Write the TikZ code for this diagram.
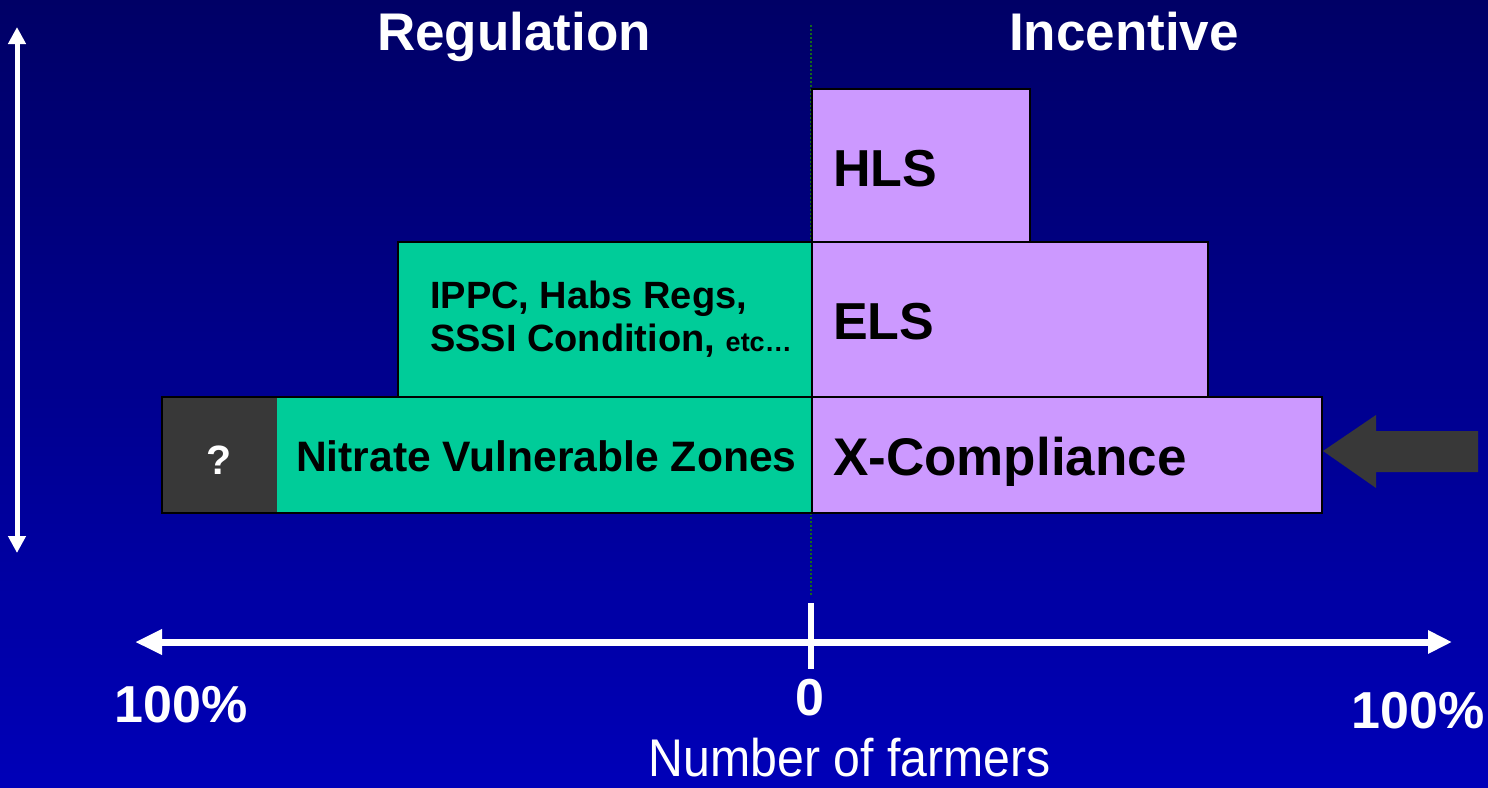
\documentclass[tikz,border=0pt]{standalone}
\usepackage{fontspec}
\setmainfont{Liberation Sans}
\usetikzlibrary{arrows.meta}

\definecolor{bgtop}{RGB}{0,0,102}
\definecolor{bgbottom}{RGB}{0,0,184}
\definecolor{regcol}{RGB}{0,204,153}
\definecolor{inccol}{RGB}{204,153,255}
\definecolor{darkbox}{RGB}{56,56,56}
\definecolor{divider}{RGB}{20,105,25}

\tikzset{
  bar/.style={draw=black, line width=2pt, rectangle, anchor=north west, inner sep=0pt},
  barlabel/.style={anchor=base west, inner sep=0pt, text=black, font=\bfseries\fontsize{52}{60}\selectfont},
  whitetext/.style={anchor=base, inner sep=0pt, text=white, font=\bfseries\fontsize{52}{60}\selectfont},
}

\begin{document}
\begin{tikzpicture}[x=1pt,y=-1pt]
\shade[top color=bgtop, bottom color=bgbottom] (0,0) rectangle (1488,787);
\useasboundingbox (0,0) rectangle (1488,787);

\node[whitetext, font=\bfseries\fontsize{53}{60}\selectfont] at (514,50) (regulation) {Regulation};
\node[whitetext, font=\bfseries\fontsize{53}{60}\selectfont] at (1124,50) (incentive) {Incentive};

\coordinate (divtop) at (811,25);
\coordinate (divbottom) at (811,595);
\draw[divider, dotted, line width=2pt] (divtop) -- (divbottom);

\node[bar, fill=regcol, minimum width=414pt, minimum height=155pt] at (397,241) (ippc) {};
\node[bar, fill=regcol, minimum width=650pt, minimum height=116pt] at (161,396) (nvz) {};
\node[bar, draw=none, fill=darkbox, minimum width=114pt, minimum height=114pt] at (162,397) (unknown) {};
\node[bar, fill=inccol, minimum width=218pt, minimum height=153pt] at (811,88) (hls) {};
\node[bar, fill=inccol, minimum width=396pt, minimum height=155pt] at (811,241) (els) {};
\node[bar, fill=inccol, minimum width=510pt, minimum height=116pt] at (811,396) (xcomp) {};

\node[barlabel] at (833,186) (hlstext) {HLS};
\node[barlabel] at (833,339) (elstext) {ELS};
\node[barlabel, font=\bfseries\fontsize{53}{60}\selectfont] at (833,475) (xcomptext) {X-Compliance};
\node[barlabel, anchor=north west, align=left, font=\bfseries\fontsize{38}{43}\selectfont]
  at (430,281) (ippctext) {IPPC, Habs Regs,\\SSSI Condition, {\fontsize{27}{43}\selectfont etc…}};
\node[barlabel, font=\bfseries\fontsize{42.6}{50}\selectfont] at (296,471) (nvztext) {Nitrate Vulnerable Zones};
\node[whitetext, font=\bfseries\fontsize{41}{50}\selectfont] at (219,474) (unknowntext) {?};

% pointer at X-Compliance
\fill[darkbox] (1323,451) -- (1376,415) -- (1376,431) -- (1478,431)
  -- (1478,472) -- (1376,472) -- (1376,488) -- cycle;

\coordinate (vtop) at (17,27);
\coordinate (vbottom) at (17,553);
\draw[white, line width=5pt, arrows={Triangle[length=17pt,width=17pt]-Triangle[length=17pt,width=17pt]}]
  (vtop) -- (vbottom);

\coordinate (axisleft) at (135,642);
\coordinate (axisright) at (1452,642);
\draw[white, line width=7pt, arrows={Triangle[length=27pt,width=24pt]-Triangle[length=24pt,width=22pt]}]
  (axisleft) -- (axisright);
\coordinate (ticktop) at (811,603);
\coordinate (tickbottom) at (811,669);
\draw[white, line width=6pt] (ticktop) -- (tickbottom);

\node[whitetext] at (181,722) (leftpct) {100\%};
\node[whitetext] at (810,715) (zero) {0};
\node[whitetext] at (1418,728) (rightpct) {100\%};
\node[whitetext, font=\fontsize{53}{60}\selectfont, xscale=0.91] at (850,776) (xlabel) {Number of farmers};
\end{tikzpicture}
\end{document}
